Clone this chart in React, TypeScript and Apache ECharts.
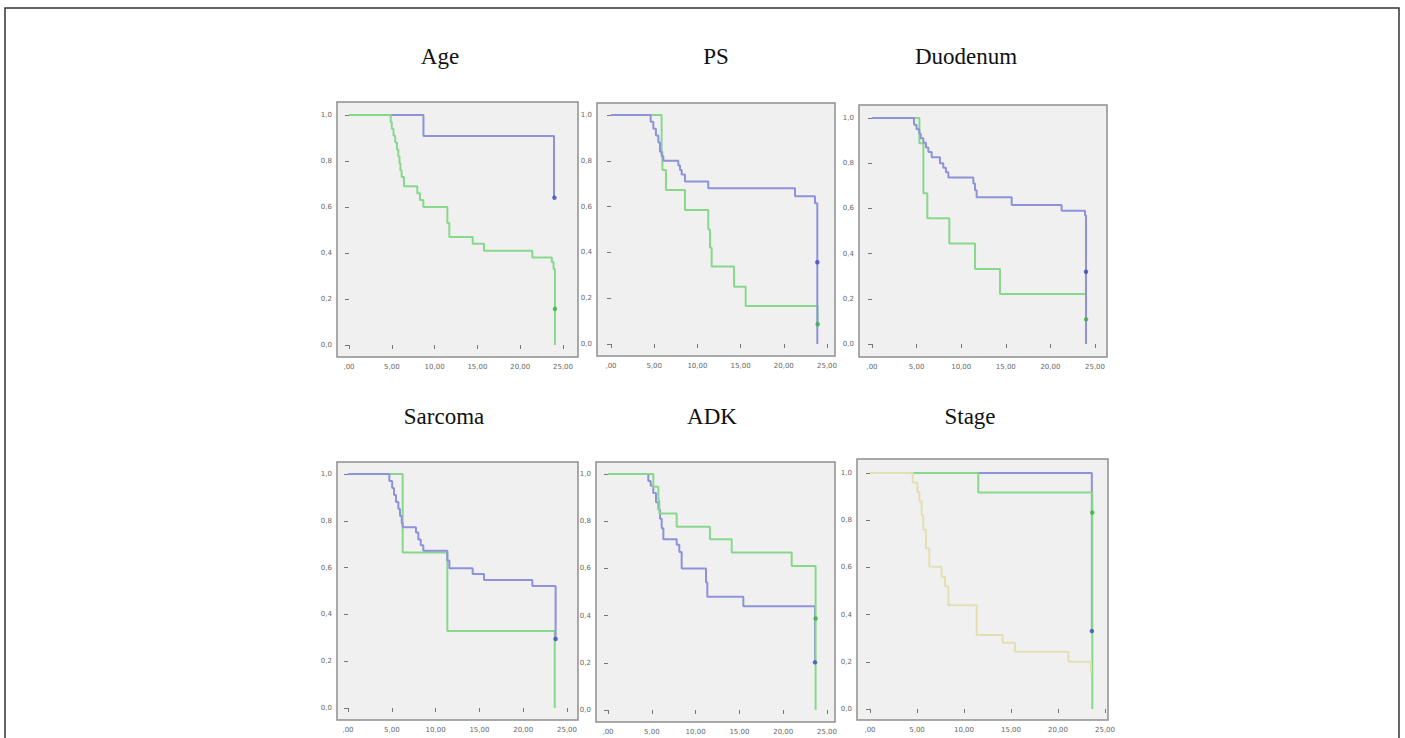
import React, { useEffect, useRef } from "react";
import * as echarts from "echarts";

// ---- Data (time in months, survival proportion) ----
const xTicks = [0, 5, 10, 15, 20, 25];
const yTicks = [0, 0.2, 0.4, 0.6, 0.8, 1];

const ageBlue = [[0, 1], [8.7, 0.909], [23.95, 0.64]];
const ageBlueCensor = [[24.0, 0.64]];
const ageGreen = [[0, 1], [4.87, 0.97], [5.0, 0.94], [5.2, 0.91], [5.4, 0.88], [5.6, 0.85], [5.76, 0.82], [5.9, 0.79], [6.0, 0.76], [6.15, 0.73], [6.42, 0.69], [7.98, 0.66], [8.29, 0.63], [8.68, 0.6], [11.49, 0.53], [11.72, 0.47], [14.45, 0.44], [15.77, 0.41], [21.42, 0.38], [23.7, 0.36], [23.9, 0.33], [24.06, 0]];
const ageGreenCensor = [[24.06, 0.157]];

const psBlue = [[0, 1], [4.59, 0.97], [4.9, 0.94], [5.2, 0.91], [5.48, 0.88], [5.67, 0.84], [5.86, 0.82], [6.06, 0.8], [7.79, 0.78], [7.99, 0.76], [8.18, 0.74], [8.56, 0.71], [11.26, 0.68], [21.3, 0.645], [23.61, 0.615], [23.88, 0]];
const psBlueCensor = [[23.88, 0.357]];
const psGreen = [[0, 1], [5.86, 0.84], [5.95, 0.76], [6.36, 0.672], [8.56, 0.585], [11.26, 0.5], [11.46, 0.42], [11.65, 0.338], [14.24, 0.25], [15.59, 0.166], [23.92, 0.086]];
const psGreenCensor = [[23.92, 0.086]];

const duoBlue = [[0, 1], [4.71, 0.97], [4.99, 0.95], [5.31, 0.93], [5.46, 0.91], [5.76, 0.89], [6.05, 0.87], [6.32, 0.85], [6.69, 0.826], [7.62, 0.8], [7.99, 0.78], [8.29, 0.76], [8.56, 0.737], [11.36, 0.71], [11.55, 0.68], [11.73, 0.649], [15.66, 0.615], [21.26, 0.59], [23.88, 0.57], [23.99, 0]];
const duoBlueCensor = [[23.99, 0.32]];
const duoGreen = [[0, 1], [5.31, 0.888], [5.76, 0.667], [6.2, 0.556], [8.67, 0.445], [11.55, 0.332], [14.35, 0.221], [24.0, 0.109]];
const duoGreenCensor = [[24.0, 0.109]];

const sarBlue = [[0, 1], [4.72, 0.97], [5.04, 0.94], [5.25, 0.91], [5.48, 0.88], [5.75, 0.85], [5.94, 0.82], [6.13, 0.79], [6.24, 0.772], [7.76, 0.75], [8.03, 0.72], [8.3, 0.695], [8.6, 0.672], [11.34, 0.63], [11.57, 0.597], [14.23, 0.573], [15.53, 0.547], [21.04, 0.521], [23.7, 0.295]];
const sarBlueCensor = [[23.7, 0.295]];
const sarGreen = [[0, 1], [6.24, 0.664], [11.34, 0.329], [23.6, 0]];
const sarGreenCensor: number[][] = [];

const adkBlue = [[0, 1], [4.6, 0.97], [4.87, 0.95], [5.17, 0.92], [5.48, 0.88], [5.75, 0.85], [5.94, 0.81], [6.13, 0.77], [6.32, 0.723], [7.84, 0.7], [8.14, 0.67], [8.41, 0.6], [11.19, 0.54], [11.34, 0.48], [15.45, 0.44], [23.63, 0.202]];
const adkBlueCensor = [[23.63, 0.202]];
const adkGreen = [[0, 1], [5.17, 0.946], [5.75, 0.89], [5.86, 0.833], [7.84, 0.777], [11.64, 0.723], [14.12, 0.667], [20.97, 0.61], [23.7, 0]];
const adkGreenCensor = [[23.7, 0.388]];

const stageBlue = [[0, 1], [23.6, 0.33]];
const stageBlueCensor = [[23.6, 0.33]];
const stageGreen = [[0, 1], [11.52, 0.917], [23.65, 0]];
const stageGreenCensor = [[23.65, 0.832]];
const stageBeige = [[0, 1], [4.54, 0.96], [5.04, 0.92], [5.25, 0.88], [5.5, 0.82], [5.67, 0.76], [5.96, 0.68], [6.31, 0.603], [7.62, 0.56], [7.98, 0.52], [8.33, 0.44], [11.35, 0.314], [14.11, 0.281], [15.43, 0.243], [21.1, 0.2], [23.5, 0.15]];

const titles = ["Age", "PS", "Duodenum", "Sarcoma", "ADK", "Stage"];

// ---- Styles / layout ----
const BLUE = "#8e92da";
const GREEN = "#88d88c";
const BEIGE = "#e2e0b2";
const BLUE_DOT = "#4048c0";
const GREEN_DOT = "#38b040";

type Curve = { data: number[][]; censor: number[][]; color: string; dot: string };
type Panel = {
  title: string;
  frame: [number, number, number, number];
  x0: number; x25: number; y1: number; y0: number;
  titleX: number; titleY: number;
  curves: Curve[];
};

const panels: Panel[] = [
  { title: titles[0], frame: [337, 102, 578, 357], x0: 349, x25: 563, y1: 115, y0: 345, titleX: 440, titleY: 45,
    curves: [
      { data: ageBlue, censor: ageBlueCensor, color: BLUE, dot: BLUE_DOT },
      { data: ageGreen, censor: ageGreenCensor, color: GREEN, dot: GREEN_DOT },
    ] },
  { title: titles[1], frame: [597, 103, 835, 356], x0: 611, x25: 827, y1: 115, y0: 344, titleX: 716, titleY: 45,
    curves: [
      { data: psGreen, censor: psGreenCensor, color: GREEN, dot: GREEN_DOT },
      { data: psBlue, censor: psBlueCensor, color: BLUE, dot: BLUE_DOT },
    ] },
  { title: titles[2], frame: [859, 105, 1107, 357], x0: 872, x25: 1095, y1: 118, y0: 344, titleX: 966, titleY: 45,
    curves: [
      { data: duoGreen, censor: duoGreenCensor, color: GREEN, dot: GREEN_DOT },
      { data: duoBlue, censor: duoBlueCensor, color: BLUE, dot: BLUE_DOT },
    ] },
  { title: titles[3], frame: [337, 462, 578, 720], x0: 348, x25: 567, y1: 474, y0: 708, titleX: 444, titleY: 405,
    curves: [
      { data: sarGreen, censor: sarGreenCensor, color: GREEN, dot: GREEN_DOT },
      { data: sarBlue, censor: sarBlueCensor, color: BLUE, dot: BLUE_DOT },
    ] },
  { title: titles[4], frame: [596, 462, 835, 722], x0: 608, x25: 827, y1: 474, y0: 710, titleX: 712, titleY: 405,
    curves: [
      { data: adkBlue, censor: adkBlueCensor, color: BLUE, dot: BLUE_DOT },
      { data: adkGreen, censor: adkGreenCensor, color: GREEN, dot: GREEN_DOT },
    ] },
  { title: titles[5], frame: [857, 459, 1108, 720], x0: 870, x25: 1105, y1: 473, y0: 709, titleX: 970, titleY: 405,
    curves: [
      { data: stageBlue, censor: stageBlueCensor, color: BLUE, dot: BLUE_DOT },
      { data: stageGreen, censor: stageGreenCensor, color: GREEN, dot: GREEN_DOT },
      { data: stageBeige, censor: [], color: BEIGE, dot: BEIGE },
    ] },
];

function buildOption() {
  const grid: any[] = [];
  const xAxis: any[] = [];
  const yAxis: any[] = [];
  const series: any[] = [];
  const graphic: any[] = [
    { type: "rect", shape: { x: 5, y: 8, width: 1394, height: 760 }, style: { fill: "none", stroke: "#333", lineWidth: 1.5 }, silent: true },
  ];
  panels.forEach((p, i) => {
    const [L, T, R, B] = p.frame;
    const ppx = (p.x25 - p.x0) / 25;
    const ppy = p.y0 - p.y1;
    grid.push({
      left: L, top: T, width: R - L, height: B - T,
      show: true, backgroundColor: "#f0f0f0", borderColor: "#8e8e8e", borderWidth: 1.5,
      containLabel: false,
    });
    const tickStyle = { show: true, length: 4, inside: false, lineStyle: { color: "#777", width: 1 } };
    xAxis.push({
      type: "value", gridIndex: i,
      min: -(p.x0 - L) / ppx, max: 25 + (R - p.x25) / ppx,
      axisLine: { show: false },
      splitLine: { show: false },
      axisTick: { ...tickStyle, customValues: xTicks },
      axisLabel: {
        customValues: xTicks, fontSize: 7, color: "#666", margin: 6, fontFamily: "DejaVu Sans",
        formatter: (v: number) => (v === 0 ? ",00" : v.toFixed(2).replace(".", ",")),
      },
    });
    yAxis.push({
      type: "value", gridIndex: i,
      min: -(B - p.y0) / ppy, max: 1 + (p.y1 - T) / ppy,
      axisLine: { show: false },
      splitLine: { show: false },
      axisTick: { ...tickStyle, customValues: yTicks },
      axisLabel: {
        customValues: yTicks, fontSize: 7, color: "#666", margin: 5, fontFamily: "DejaVu Sans",
        formatter: (v: number) => v.toFixed(1).replace(".", ","),
      },
    });
    p.curves.forEach((c) => {
      series.push({
        type: "line", xAxisIndex: i, yAxisIndex: i, step: "end", data: c.data,
        showSymbol: false, symbol: "none",
        lineStyle: { color: c.color, width: 2 },
        silent: true,
      });
    });
    p.curves.forEach((c) => {
      if (c.censor.length) {
        series.push({
          type: "scatter", xAxisIndex: i, yAxisIndex: i, data: c.censor,
          symbol: "circle", symbolSize: 4.5, itemStyle: { color: c.dot }, silent: true, z: 5,
        });
      }
    });
    graphic.push({
      type: "text", x: p.titleX, y: p.titleY,
      style: { text: p.title, fill: "#111", font: "23px 'Liberation Serif', 'DejaVu Serif', serif", textAlign: "center", textVerticalAlign: "top" },
      silent: true,
    });
  });
  return { animation: false, backgroundColor: "#ffffff", grid, xAxis, yAxis, series, graphic };
}

export default function App() {
  const ref = useRef<HTMLDivElement>(null);
  useEffect(() => {
    document.body.style.margin = "0";
    if (!ref.current) return;
    const chart = echarts.init(ref.current, undefined, { renderer: "svg" });
    chart.setOption(buildOption() as any);
    return () => chart.dispose();
  }, []);
  return <div ref={ref} style={{ width: 1405, height: 738 }} />;
}
